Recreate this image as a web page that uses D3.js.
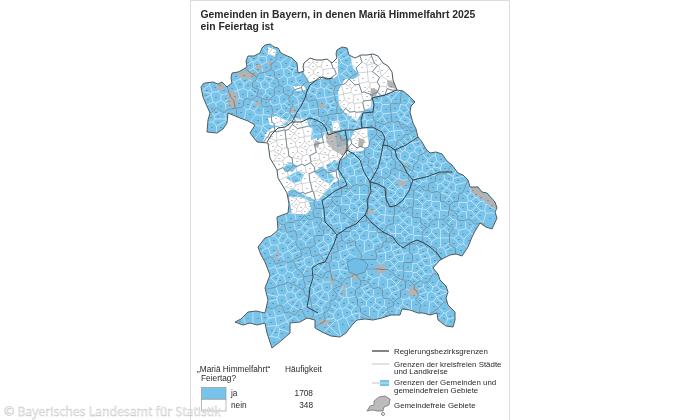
<!DOCTYPE html>
<html>
<head>
<meta charset="utf-8">
<script src="https://cdn.jsdelivr.net/npm/d3@7"></script>
<style>
  html, body { margin: 0; background: #fff; }
  svg { display: block; font-family: "Liberation Sans", Arial, sans-serif; }
</style>
</head>
<body>
<div id="viz"></div>
<script>
// map data: outlines, in map units
var bavariaOutline = [[201,87],[203,84],[205,83],[213,82],[218,84],[222,82],[227,87],[232,83],[231,78],[232,73],[238,72],[242,70],[247,67],[246,61],[248,56],[254,56],[260,53],[262,48],[265,45],[270,44],[274,47],[278,48],[281,53],[285,55],[292,58],[297,63],[298,73],[304,71],[303,67],[304,63],[310,58],[316,60],[322,60],[327,59],[332,63],[337,58],[336,54],[337,50],[342,47],[347,48],[349,55],[355,58],[361,55],[367,55],[373,54],[378,56],[383,63],[388,66],[392,72],[393,80],[397,90],[403,91],[408,95],[415,102],[411,106],[410,112],[413,123],[416,129],[418,137],[422,142],[426,149],[430,153],[436,152],[442,154],[447,161],[452,165],[458,173],[463,175],[468,180],[470,187],[478,187],[482,192],[487,193],[495,202],[497,208],[495,212],[497,218],[492,229],[486,227],[480,223],[475,231],[472,237],[468,247],[462,256],[456,254],[450,255],[440,260],[433,268],[438,274],[440,280],[446,286],[448,292],[446,298],[448,305],[455,312],[455,320],[453,327],[446,326],[438,320],[437,313],[430,315],[423,313],[418,313],[410,310],[402,309],[400,315],[391,315],[382,318],[373,320],[365,319],[357,320],[352,325],[346,333],[340,337],[331,336],[322,332],[315,328],[315,320],[307,318],[300,322],[290,323],[290,333],[282,340],[272,348],[267,333],[265,323],[257,325],[250,323],[243,325],[235,322],[241,319],[248,312],[256,311],[265,313],[268,300],[265,288],[270,275],[265,262],[261,255],[258,247],[265,238],[271,236],[278,230],[277,217],[288,213],[289,204],[287,193],[278,178],[277,170],[270,158],[268,143],[257,142],[250,133],[255,125],[248,121],[240,118],[228,113],[227,123],[223,129],[217,133],[207,132],[208,120],[210,113],[206,104],[203,97]];

var whiteAreas = [
  [[266,133],[272,128],[287,125],[293,118],[307,120],[309,127],[316,130],[317,140],[323,137],[326,131],[335,131],[337,148],[345,145],[350,140],[355,130],[367,128],[369,146],[362,151],[350,152],[343,158],[336,163],[340,180],[333,183],[323,195],[318,201],[308,197],[292,188],[286,195],[270,170],[262,145]],
  [[289,197],[300,197],[308,200],[311,208],[307,214],[292,214]],
  [[302,64],[310,56],[322,58],[332,61],[338,56],[338,75],[333,79],[320,79],[310,83],[304,73]],
  [[350,54],[378,54],[394,72],[399,91],[372,97],[371,107],[362,112],[357,121],[345,113],[339,105],[338,91],[345,79],[354,79],[360,75],[353,68]],
  [[293,86],[304,86],[306,90],[296,91]],
  [[268,47],[276,50],[275,56],[268,54]],
  [[268,118],[276,116],[288,121],[280,126],[270,125]],
  [[332,122],[339,120],[340,130],[333,131]]
];
var bluePatches = [
  [[283,168],[290,162],[298,166],[293,171],[285,172]],
  [[298,171],[304,175],[301,181],[294,183],[286,178],[292,174]],
  [[314,172],[322,166],[326,170],[335,178],[330,184],[322,180]],
  [[312,128],[316,122],[320,137],[311,140]],
  [[341,128],[346,126],[345,138],[341,139]],
  [[326,165],[336,160],[338,170],[328,172]]
];
var grayAreas = [
  [[236,73],[248,70],[258,75],[250,79],[240,78]],
  [[227,90],[236,92],[238,102],[234,110],[228,104]],
  [[217,84],[224,84],[224,90],[218,90]],
  [[256,64],[263,66],[261,70],[256,69]],
  [[268,62],[273,62],[272,66],[268,65]],
  [[255,102],[260,101],[260,106],[255,106]],
  [[290,108],[296,108],[295,113],[290,112]],
  [[320,103],[325,103],[325,108],[320,108]],
  [[371,88],[378,90],[376,97],[370,96]],
  [[387,80],[394,82],[396,89],[388,87]],
  [[315,140],[320,142],[318,148],[314,146]],
  [[470,187],[478,188],[487,195],[495,203],[496,209],[490,206],[482,199],[472,193]],
  [[403,163],[408,164],[406,168],[403,167]],
  [[397,180],[406,181],[406,186],[398,185]],
  [[367,210],[374,209],[373,214],[367,214]],
  [[375,268],[381,264],[386,266],[385,272],[377,274]],
  [[408,292],[413,285],[418,289],[417,296],[409,296]],
  [[448,305],[452,304],[453,310],[449,310]],
  [[317,322],[325,319],[331,322],[324,326]],
  [[350,274],[356,272],[360,276],[354,281]],
  [[331,274],[334,275],[333,286],[330,284]],
  [[344,283],[346,284],[344,297],[342,295]],
  [[277,249],[279,250],[277,261],[275,259]],
  [[359,138],[365,140],[362,148],[358,146]]
];
// Nuernberg and Fuerth, built-up and forest mixed, reads as a paler grey
var cityAreas = [
  [[325,133],[335,131],[347,140],[350,150],[342,155],[333,150],[327,143]]
];
var munichArea = [[347,262],[355,258],[363,260],[368,265],[365,272],[356,275],[349,272]];

var bezirkBorders = [
  [[322,200],[324,210],[325,222],[331,228],[337,235],[334,244],[330,252],[325,262],[318,264],[312,268],[313,278],[310,287],[309,297],[307,307],[318,313]],
  [[337,235],[347,228],[356,224],[365,215],[373,224],[383,232],[393,237],[397,243],[403,248],[410,243],[417,240],[424,243],[430,247],[437,253],[442,260]],
  [[323,200],[335,191],[347,185],[345,180],[343,177],[338,169],[340,160],[347,150],[354,154],[360,160],[364,172],[370,182]],
  [[365,215],[368,208],[367,200],[371,192],[370,182],[378,184],[385,188],[386,199],[390,207],[397,205],[403,200],[409,191],[413,180],[426,177],[440,172],[452,172]],
  [[267,142],[272,134],[278,128],[285,127],[292,122],[301,122],[310,118],[316,120],[322,123],[326,128],[328,135],[337,132],[345,130],[347,140],[347,150]],
  [[292,122],[297,112],[301,106],[305,98],[307,91],[310,85],[320,77],[327,79],[333,78]],
  [[345,130],[354,130],[362,128],[361,120],[363,113],[373,112],[374,104],[372,98],[385,95],[397,90]],
  [[362,128],[372,127],[382,132],[385,138],[383,145],[381,156],[378,168],[370,182]],
  [[383,145],[389,146],[395,150],[406,145],[418,137]],
  [[395,150],[397,158],[403,165],[407,173],[413,180]]
];

// one seed per Kreis, the cells of the Gemeinden nearest to it form that Kreis
var kreisSeeds = [[215,100],[222,120],[245,88],[262,62],[285,75],[280,105],[255,112],[265,85],[305,105],[320,95],[345,65],[315,68],[365,75],[385,75],[350,95],[385,108],[400,115],[355,125],[395,135],[380,155],[410,150],[425,170],[445,190],[470,205],[430,205],[400,195],[405,225],[440,235],[460,230],[380,210],[350,205],[355,170],[330,155],[300,145],[280,155],[295,180],[325,190],[300,205],[305,235],[285,245],[335,215],[285,275],[290,300],[325,245],[320,290],[345,305],[375,300],[340,255],[365,240],[395,260],[385,285],[420,265],[430,295],[445,312],[410,305],[285,325],[310,265]];

var gemeindeSeeds = [
[268,49],[274,52],[254,58],[262,60],[271,59],[281,57],[250,65],[258,69],[266,67],[276,66],[286,63],[293,66],[236,76],[244,75],[252,76],[261,78],[270,75],[279,74],[289,73],[296,72],[309,62],[317,62],[327,65],[336,62],[341,52],[346,60],[357,62],[366,59],[376,60],
[207,90],[215,87],[224,90],[232,88],[240,84],[248,85],[257,86],[265,84],[274,83],[283,81],[292,81],[300,80],[309,72],[318,72],[328,73],[342,68],[351,71],[362,67],[372,66],[382,70],[388,76],
[208,99],[216,97],[226,98],[235,96],[243,94],[252,95],[261,93],[270,93],[279,91],[288,90],[298,92],[307,89],[316,84],[325,83],[335,82],[344,79],[354,80],[363,78],[373,77],[384,82],[391,86],
[212,108],[221,106],[230,105],[239,103],[248,104],[257,101],[266,102],[275,100],[284,99],[293,101],[302,98],[311,96],[320,93],[329,92],[338,90],[347,88],[356,90],[365,87],[374,88],[383,91],[392,95],
[211,117],[218,116],[212,127],[221,127],[232,113],[241,112],[250,114],[259,110],[268,111],[277,109],[286,108],[295,110],[304,107],[313,105],[322,103],[331,101],[340,100],[349,98],[358,99],[367,96],[377,98],[386,100],[396,99],[405,100],[411,106],
[258,120],[267,119],[276,118],[285,117],[296,116],[305,114],[314,113],[323,112],[332,110],[341,109],[350,108],[359,107],[368,105],[377,107],[386,109],[395,108],[404,110],
[256,131],[262,136],[270,128],[279,127],[288,125],[297,124],[306,122],[315,121],[324,120],[333,118],[342,117],[351,116],[360,117],[369,115],[378,116],[387,118],[396,117],[405,120],[411,127],
[272,136],[281,135],[290,134],[299,133],[308,131],[317,129],[326,128],[335,127],[344,125],[353,126],[362,124],[371,125],[380,126],[389,127],[398,126],[407,130],[414,136],
[273,146],[282,144],[291,143],[300,142],[309,141],[318,139],[327,137],[336,136],[345,135],[354,134],[363,133],[372,134],[381,135],[390,136],[399,135],[408,139],[418,143],
[275,155],[284,153],[293,152],[302,151],[311,150],[320,148],[329,146],[338,145],[347,144],[356,143],[365,142],[374,144],[383,145],[392,145],[401,146],[410,148],[420,150],[428,155],
[279,164],[288,162],[297,161],[306,160],[315,158],[324,157],[333,155],[342,154],[351,153],[360,152],[369,153],[378,154],[387,155],[396,155],[405,156],[414,157],[423,159],[432,161],[441,159],
[283,173],[292,171],[301,170],[310,168],[319,167],[328,165],[337,164],[346,163],[355,162],[364,161],[373,163],[382,163],[391,164],[400,165],[409,166],[418,167],[427,168],[436,170],[445,168],[452,172],
[287,182],[296,180],[305,178],[314,177],[323,175],[332,174],[341,173],[350,171],[359,171],[368,172],[377,173],[386,173],[395,174],[404,175],[413,176],[422,177],[431,178],[440,179],[449,178],[458,180],
[289,191],[298,189],[307,188],[316,186],[325,185],[334,183],[343,182],[352,181],[361,180],[370,182],[379,182],[388,183],[397,184],[406,185],[415,185],[424,186],[433,187],[442,188],[451,187],[460,188],[468,191],
[292,200],[301,198],[310,197],[319,195],[328,194],[337,192],[346,191],[355,190],[364,190],[373,191],[382,192],[391,193],[400,193],[409,194],[418,195],[427,196],[436,197],[445,197],[454,197],[463,198],[472,196],[481,197],[488,200],
[292,209],[301,207],[310,206],[319,204],[328,203],[337,201],[346,200],[355,199],[364,199],[373,200],[382,201],[391,202],[400,202],[409,203],[418,204],[427,205],[436,206],[445,206],[454,206],[463,207],[472,206],[481,206],[490,208],
[282,220],[291,218],[300,216],[309,215],[318,213],[327,212],[336,210],[345,209],[354,208],[363,208],[372,209],[381,210],[390,211],[399,211],[408,212],[417,213],[426,214],[435,215],[444,215],[453,215],[462,216],[471,215],[480,215],[490,218],
[272,232],[281,229],[290,227],[299,225],[308,224],[317,222],[326,221],[335,219],[344,218],[353,217],[362,217],[371,218],[380,219],[389,220],[398,220],[407,221],[416,222],[425,223],[434,224],[443,224],[452,224],[461,225],[470,224],[476,228],
[266,243],[274,240],[283,238],[292,236],[301,234],[310,233],[319,231],[328,230],[337,228],[346,227],[355,226],[364,226],[373,227],[382,228],[391,229],[400,229],[409,230],[418,231],[427,232],[436,233],[445,233],[454,233],[463,234],[469,240],
[265,253],[274,250],[283,248],[292,246],[301,244],[310,242],[319,240],[328,239],[337,237],[346,236],[355,235],[364,235],[373,236],[382,237],[391,238],[400,238],[409,239],[418,240],[427,241],[436,243],[445,243],[454,243],[461,250],
[270,263],[279,260],[288,257],[297,255],[306,253],[315,251],[324,249],[333,248],[342,246],[351,245],[360,245],[369,245],[378,246],[387,247],[396,247],[405,248],[414,249],[423,251],[432,252],[441,253],[450,250],
[273,273],[282,270],[291,267],[300,264],[309,262],[318,260],[327,258],[336,257],[345,255],[372,255],[381,256],[390,256],[399,257],[408,258],[417,259],[426,261],[435,260],
[271,283],[280,280],[289,277],[298,274],[307,271],[316,269],[325,267],[334,265],[343,264],[372,264],[390,265],[399,266],[408,267],[417,268],[426,270],
[273,293],[282,290],[291,287],[300,284],[309,281],[318,279],[327,277],[336,275],[345,273],[364,277],[372,274],[390,274],[399,275],[408,276],[417,277],[426,278],[433,282],
[273,303],[282,300],[291,297],[300,294],[309,291],[318,289],[327,287],[336,285],[347,283],[356,283],[365,284],[374,283],[383,284],[392,284],[401,285],[410,285],[419,286],[428,287],[437,290],
[270,314],[279,311],[288,308],[297,305],[306,301],[315,299],[324,297],[333,295],[342,293],[351,292],[360,293],[369,292],[378,293],[387,293],[396,294],[405,294],[414,295],[423,296],[432,297],[441,298],
[248,318],[258,318],[271,322],[281,320],[290,316],[299,315],[308,311],[317,309],[326,307],[335,305],[344,303],[353,302],[362,302],[371,302],[380,302],[389,303],[398,303],[407,304],[416,304],[425,305],[434,306],[444,308],[450,316],
[276,332],[284,327],[274,342],[320,318],[329,316],[338,314],[347,312],[356,311],[365,311],[374,311],[383,312],[392,311],[401,313],[325,327],[334,326],[343,324],[352,320],[362,317],[444,318]
];
// second pass over the same ground, smaller Gemeinden between the first ones
var gemeindeSeedsFine = [
[263,53],[279,52],[257,64],[269,64],[284,60],[248,62],[290,59],[243,71],[254,73],[265,71],[276,70],[292,69],[306,67],[313,66],[323,60],[332,67],[344,56],[353,65],[360,56],[371,62],[380,65],[345,50],
[204,86],[212,92],[220,85],[229,84],[237,81],[245,80],[253,82],[262,89],[269,79],[279,87],[287,77],[296,86],[304,76],[314,78],[323,77],[334,72],[347,75],[357,75],[367,72],[378,71],[385,66],[396,91],[350,84],[340,86],[331,88],[320,89],[311,83],
[206,95],[213,103],[222,94],[229,101],[238,99],[247,99],[255,91],[258,106],[267,97],[273,105],[282,95],[289,104],[296,96],[303,103],[313,91],[317,100],[326,97],[333,105],[343,95],[344,104],[352,93],[361,102],[369,91],[372,101],[381,96],[389,93],[400,96],[407,104],[413,101],
[206,113],[216,112],[226,110],[210,124],[218,122],[237,108],[245,117],[254,106],[263,115],[271,107],[281,113],[290,105],[291,120],[300,112],[309,110],[310,118],[319,108],[318,116],[328,107],[328,116],[337,113],[346,113],[355,112],[354,121],[364,111],[365,120],[373,112],[373,121],[383,112],[382,121],[391,113],[392,122],[401,114],[400,122],[408,115],
[253,135],[260,126],[266,133],[275,132],[284,131],[293,129],[303,128],[312,126],[321,125],[322,133],[330,124],[331,132],[339,122],[340,131],[348,130],[349,121],[357,129],[367,129],[376,130],[385,131],[394,131],[403,124],[403,133],[412,132],[417,140],[277,140],[286,139],[295,138],[304,137],[313,135],
[270,141],[269,151],[278,150],[287,149],[296,147],[305,146],[314,145],[323,143],[332,141],[341,140],[350,139],[359,138],[368,138],[377,139],[386,140],[395,141],[404,143],[413,143],[416,152],[424,148],[428,162],[436,156],[279,158],[289,158],[298,156],[307,155],[316,154],[325,152],[334,150],[343,149],[352,148],[361,147],[370,148],[379,149],[388,150],[397,150],[406,151],[415,163],[437,165],[446,162],
[281,169],[288,167],[298,166],[305,163],[316,163],[323,160],[334,160],[341,157],[352,158],[359,156],[370,158],[376,159],[387,159],[395,160],[405,161],[412,161],[424,164],[431,165],[284,178],[294,176],[300,174],[313,172],[320,171],[331,170],[338,168],[349,167],[357,166],[369,167],[376,168],[388,168],[395,170],[406,170],[413,172],[424,172],[431,173],[442,174],[448,172],[457,175],[463,182],[291,186],[301,184],[309,182],[320,181],[327,179],[338,178],[345,177],[356,176],[363,176],[374,177],[381,178],[392,179],[399,180],[410,180],[417,181],[428,182],[435,183],[446,184],[453,183],[464,186],[473,190],[480,192],
[294,195],[303,193],[312,191],[321,190],[329,189],[339,188],[347,186],[357,185],[366,186],[375,187],[383,187],[393,188],[402,189],[411,190],[420,190],[429,191],[438,192],[447,192],[456,192],[465,193],[476,194],[484,195],[296,204],[305,202],[314,200],[323,199],[332,197],[341,196],[350,195],[359,195],[368,195],[377,196],[386,197],[395,198],[404,198],[413,199],[422,200],[431,201],[440,201],[449,201],[458,202],[467,203],[476,201],[486,203],[492,205],
[296,212],[287,216],[305,211],[314,209],[323,208],[332,206],[341,205],[350,204],[359,204],[368,204],[377,205],[386,206],[395,207],[404,207],[413,208],[422,209],[431,210],[440,210],[449,211],[458,211],[467,211],[476,211],[485,212],[494,213],[277,226],[286,224],[295,222],[304,220],[313,218],[322,217],[331,215],[340,214],[349,213],[358,213],[367,213],[376,214],[385,215],[394,216],[403,216],[412,217],[421,218],[430,219],[439,219],[448,220],[457,220],[466,220],[475,220],[485,222],
[269,238],[278,235],[287,233],[296,231],[305,229],[314,227],[323,226],[332,224],[341,223],[350,222],[359,221],[368,222],[377,223],[386,224],[395,225],[404,225],[413,226],[422,227],[431,228],[440,229],[449,229],[458,229],[467,230],[261,248],[270,246],[279,243],[288,242],[297,240],[306,238],[315,236],[324,235],[333,233],[342,232],[351,231],[360,231],[369,231],[378,232],[387,233],[396,234],[405,234],[414,235],[423,236],[432,237],[441,238],[450,238],[459,239],[466,245],
[268,258],[277,255],[286,253],[295,250],[304,248],[313,246],[322,245],[331,243],[340,242],[349,240],[358,240],[367,240],[376,241],[385,242],[394,242],[403,243],[412,244],[421,245],[430,247],[439,248],[448,247],[456,249],[272,268],[281,265],[290,262],[299,260],[308,258],[317,255],[326,254],[335,252],[344,251],[353,250],[362,250],[371,250],[380,251],[389,252],[398,252],[407,253],[416,254],[425,256],[434,256],[441,259],
[276,278],[285,275],[294,272],[303,269],[312,266],[321,264],[330,262],[339,261],[348,259],[375,260],[386,260],[394,261],[403,262],[412,263],[421,265],[430,265],[437,266],[276,288],[285,285],[294,282],[303,279],[312,276],[321,274],[330,272],[339,270],[346,268],[372,270],[393,270],[403,271],[412,272],[421,273],[430,275],[438,278],
[272,298],[278,295],[287,292],[296,289],[305,286],[314,284],[323,282],[332,280],[341,278],[350,278],[361,281],[369,279],[378,278],[387,279],[396,280],[405,280],[414,281],[423,282],[432,283],[441,286],[274,308],[284,305],[293,302],[302,298],[311,296],[320,294],[329,292],[338,290],[349,288],[358,288],[367,288],[376,288],[385,289],[394,289],[403,290],[412,290],[421,291],[430,292],[439,293],[445,295],
[253,321],[265,317],[275,317],[285,314],[294,311],[303,309],[312,305],[321,303],[330,301],[339,299],[348,297],[357,297],[366,297],[375,297],[384,298],[393,298],[402,299],[411,299],[420,300],[429,301],[438,302],[445,303],[280,326],[272,330],[277,338],[286,323],[293,320],[305,316],[323,313],[332,310],[341,308],[350,307],[359,306],[368,306],[377,307],[386,307],[395,308],[404,308],[421,309],[430,310],[439,313],[447,312],[451,321],[441,317],
[321,326],[330,322],[339,320],[348,317],[357,316],[367,315],[376,316],[386,315],[395,313],[329,331],[338,332],[345,329],[240,321],[266,320],[270,335],[282,333]
];
// keeping only part of the second pass stops the rows lining up in stripes
var allSeeds = gemeindeSeeds.concat(gemeindeSeedsFine.filter(function(d, i){ return (i * 7) % 11 < 4; }));

var legendTitle = ["\u201EMari\u00E4 Himmelfahrt\u201C", "Feiertag?"];
var legendCategories = ["ja", "nein"];
var legendCounts = [1708, 348];
var legendColors = ["#77c3ea", "#ffffff"];
var keyLabels = [
  ["Regierungsbezirksgrenzen"],
  ["Grenzen der kreisfreien St\u00E4dte", "und Landkreise"],
  ["Grenzen der Gemeinden und", "gemeindefreien Gebiete"],
  ["Gemeindefreie Gebiete"]
];
var keyBlob = [[374,401],[379,397],[385,396],[390,399],[389,405],[384,407],[383,411],[377,411],[373,410],[367,411],[370,406],[374,405]];

var width = 700, height = 420;
var blue = "#77c3ea", gray = "#b3b3b3";

var svg = d3.select("#viz").append("svg")
  .attr("width", width).attr("height", height);

// map units are read at picture scale
var x = d3.scaleLinear().domain([195, 500]).range([195, 500]);
var y = d3.scaleLinear().domain([40, 350]).range([40, 350]);
var ringPath = d3.line().x(function(d){ return x(d[0]); }).y(function(d){ return y(d[1]); }).curve(d3.curveLinearClosed);
var linePath = d3.line().x(function(d){ return x(d[0]); }).y(function(d){ return y(d[1]); });

// frame of the page
svg.append("path").attr("d", "M190.5,420V0.5H509.5V420").attr("fill", "none").attr("stroke", "#dcdcdc");

var defs = svg.append("defs");
defs.append("filter").attr("id", "soft").append("feGaussianBlur").attr("stdDeviation", 0.4);
defs.append("filter").attr("id", "softText").append("feGaussianBlur").attr("stdDeviation", 0.22);

function clip(id, polys) {
  defs.append("clipPath").attr("id", id).selectAll("path").data(polys).join("path").attr("d", ringPath);
}
clip("c-all", [bavariaOutline]);
clip("c-white", whiteAreas);
clip("c-patch", bluePatches);

var bbox = [195, 40, 500, 350];
var delaunay = d3.Delaunay.from(allSeeds, function(d){ return x(d[0]); }, function(d){ return y(d[1]); });
var voronoi = delaunay.voronoi(bbox);
var gemeindeCells = voronoi.render();

// Kreis lines run along the Gemeinde cell edges where the nearest Kreis seed changes
var kreisOf = allSeeds.map(function(p){
  return d3.scan(kreisSeeds, function(a, b){
    return d3.ascending((a[0]-p[0])*(a[0]-p[0]) + (a[1]-p[1])*(a[1]-p[1]), (b[0]-p[0])*(b[0]-p[0]) + (b[1]-p[1])*(b[1]-p[1]));
  });
});
var kreisCells = "";
delaunay.halfedges.forEach(function(twin, e){
  if (twin < e) return;
  var a = delaunay.triangles[e], b = delaunay.triangles[e % 3 === 2 ? e - 2 : e + 1];
  if (kreisOf[a] === kreisOf[b]) return;
  var t1 = Math.floor(e / 3), t2 = Math.floor(twin / 3), c = voronoi.circumcenters;
  kreisCells += "M" + c[t1*2] + "," + c[t1*2+1] + "L" + c[t2*2] + "," + c[t2*2+1];
});

var map = svg.append("g").attr("filter", "url(#soft)");
var inside = map.append("g").attr("clip-path", "url(#c-all)");

inside.append("path").attr("d", ringPath(bavariaOutline)).attr("fill", blue);
inside.append("path").attr("d", gemeindeCells).attr("fill", "none").attr("stroke", "#f2fafd").attr("stroke-width", 0.55);

inside.selectAll(".w").data(whiteAreas).join("path").attr("class", "w").attr("d", ringPath).attr("fill", "#fff");
inside.append("g").attr("clip-path", "url(#c-white)")
  .append("path").attr("d", gemeindeCells).attr("fill", "none").attr("stroke", "#8f8f8f").attr("stroke-width", 0.4);

inside.selectAll(".b").data(bluePatches).join("path").attr("class", "b").attr("d", ringPath).attr("fill", blue);
inside.append("g").attr("clip-path", "url(#c-patch)")
  .append("path").attr("d", gemeindeCells).attr("fill", "none").attr("stroke", "#f2fafd").attr("stroke-width", 0.55);

inside.selectAll(".c").data(cityAreas).join("path").attr("class", "c").attr("d", ringPath).attr("fill", "#a8a8a8").attr("opacity", 0.75);
inside.selectAll(".g").data(grayAreas).join("path").attr("class", "g").attr("d", ringPath).attr("fill", gray);

// tiny place names show up only as specks at this size
inside.selectAll(".s").data(allSeeds).join("rect").attr("class", "s")
  .attr("x", function(d){ return x(d[0]) - 1; }).attr("y", function(d){ return y(d[1]); })
  .attr("width", 2).attr("height", 0.6).attr("fill", "#3a3a3a").attr("opacity", 0.5);

inside.append("path").attr("d", kreisCells).attr("fill", "none").attr("stroke", "#55707e").attr("stroke-width", 0.7);
inside.append("path").attr("d", ringPath(munichArea)).attr("fill", "#6fbee8").attr("stroke", "#4d7d96").attr("stroke-width", 0.6);

map.selectAll(".r").data(bezirkBorders).join("path").attr("class", "r").attr("d", linePath)
  .attr("fill", "none").attr("stroke", "#2f3a40").attr("stroke-width", 0.95);
map.append("path").attr("d", ringPath(bavariaOutline)).attr("fill", "none").attr("stroke", "#4c5a60").attr("stroke-width", 1);

// title
var ink = "#2a2a2a";
var textLayer = svg.append("g").attr("filter", "url(#softText)");
textLayer.append("g").attr("font-weight", "bold").attr("font-size", 10.4).attr("fill", ink)
  .selectAll("text").data(["Gemeinden in Bayern, in denen Mari\u00E4 Himmelfahrt 2025", "ein Feiertag ist"]).join("text")
  .attr("x", 200.5).attr("y", function(d, i){ return 18 + i * 12; }).text(function(d){ return d; });

// frequency legend
var legend = textLayer.append("g").attr("font-size", 8.3).attr("fill", ink);
legend.append("text").attr("x", 197).attr("y", 372).text(legendTitle[0]);
legend.append("text").attr("x", 201).attr("y", 380.5).text(legendTitle[1]);
legend.append("text").attr("x", 285).attr("y", 372).text("H\u00E4ufigkeit");

var rowY = d3.scaleBand().domain(legendCategories).range([387.5, 411]);
legend.selectAll("rect").data(legendCategories).join("rect")
  .attr("x", 201.5).attr("y", function(d){ return rowY(d); })
  .attr("width", 24.5).attr("height", rowY.bandwidth())
  .attr("fill", function(d, i){ return legendColors[i]; })
  .attr("stroke", "#8c8c8c").attr("stroke-width", 0.6);
legend.selectAll(".cat").data(legendCategories).join("text").attr("class", "cat")
  .attr("x", 231).attr("y", function(d, i){ return 395.5 + i * 12.8; }).text(function(d){ return d; });
legend.selectAll(".cnt").data(legendCounts).join("text").attr("class", "cnt")
  .attr("x", 313).attr("text-anchor", "end")
  .attr("y", function(d, i){ return 395.5 + i * 12.8; }).text(function(d){ return d; });

// line key on the right
var key = textLayer.append("g").attr("font-size", 7.9).attr("fill", ink);
var keyBaselines = [354, 367, 385.3, 408];
keyLabels.forEach(function(lines, i){
  lines.forEach(function(t, j){
    key.append("text").attr("x", 394).attr("y", keyBaselines[i] + j * 7.2).text(t);
  });
});
key.append("line").attr("x1", 372).attr("x2", 389).attr("y1", 351).attr("y2", 351).attr("stroke", "#222").attr("stroke-width", 1.1);
key.append("line").attr("x1", 372).attr("x2", 389).attr("y1", 364).attr("y2", 364).attr("stroke", "#bdbdbd").attr("stroke-width", 0.9);
key.append("line").attr("x1", 372).attr("x2", 380).attr("y1", 383).attr("y2", 383).attr("stroke", "#bdbdbd").attr("stroke-width", 0.9);
key.append("rect").attr("x", 380).attr("y", 380).attr("width", 9).attr("height", 6).attr("fill", blue);
key.append("line").attr("x1", 380).attr("x2", 389).attr("y1", 383).attr("y2", 383).attr("stroke", "#e6f5fc").attr("stroke-width", 0.7);
key.append("path").attr("d", ringPath(keyBlob)).attr("fill", "#bcbcbc").attr("stroke", "#666").attr("stroke-width", 0.7);
key.append("circle").attr("cx", 383).attr("cy", 414).attr("r", 1.5).attr("fill", "#fff").attr("stroke", "#555").attr("stroke-width", 0.7);

// source stamp
svg.append("text").attr("x", 4).attr("y", 415.5)
  .attr("font-family", "'Open Sans', sans-serif").attr("font-size", 12.3)
  .attr("fill", "#fff").attr("stroke", "#b5b5b5").attr("stroke-width", 0.35)
  .text("\u00A9 Bayerisches Landesamt f\u00FCr Statistik");
</script>
</body>
</html>
